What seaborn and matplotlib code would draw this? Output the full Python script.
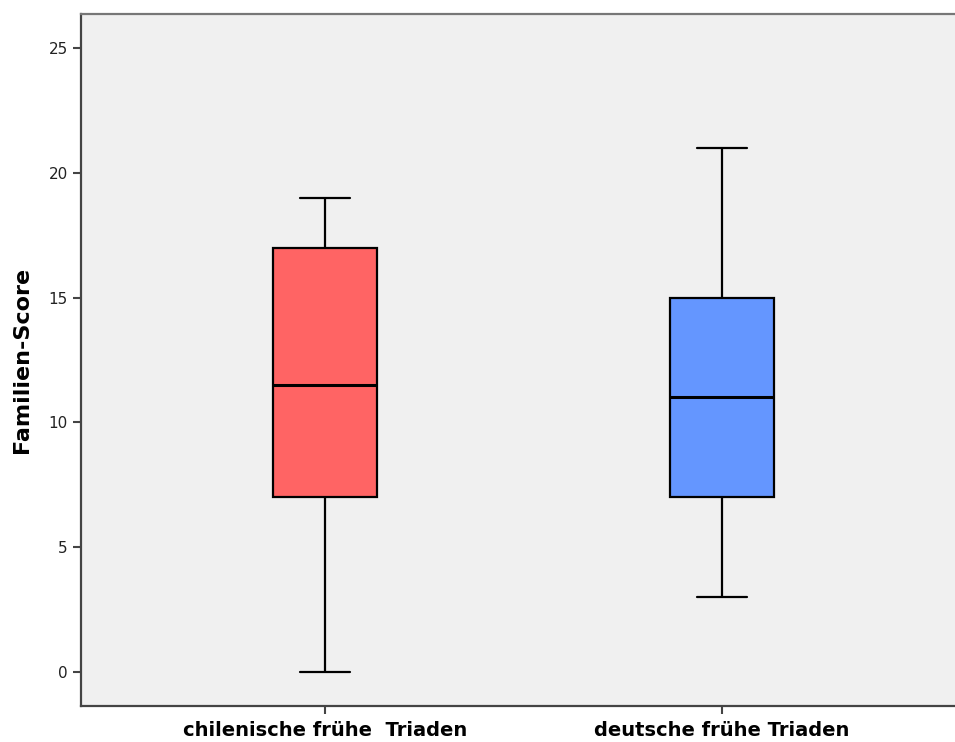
import numpy as np
import pandas as pd
import seaborn as sns
from matplotlib import pyplot as plt

# box summaries: lower whisker, Q1, median, Q3, upper whisker
groups = ["chilenische frühe  Triaden", "deutsche frühe Triaden"]
chile_values = [0, 7, 11.5, 17, 19]
deutsch_values = [3, 7, 11, 15, 21]
box_colors = ["#ff6464", "#6496ff"]
y_ticks = [0, 5, 10, 15, 20, 25]

df = pd.DataFrame({
    "Gruppe": [groups[0]] * len(chile_values) + [groups[1]] * len(deutsch_values),
    "Familien-Score": chile_values + deutsch_values,
})

sns.set_style("white")
plt.rcParams["font.family"] = ["DejaVu Sans"]

fig = plt.figure(figsize=(9.55, 7.42), dpi=100)
ax = fig.add_axes([0.0848, 0.0485, 0.9152, 0.9326])
ax.set_facecolor("#f0f0f0")

sns.boxplot(data=df, x="Gruppe", y="Familien-Score", hue="Gruppe", palette=box_colors,
            order=groups, width=0.264, whis=1.5, linewidth=1.6, linecolor="black",
            saturation=1, medianprops=dict(linewidth=2.2, color="black"),
            legend=False, ax=ax)

# make the caps about half the box width
for line in ax.lines:
    xd = np.asarray(line.get_xdata(), dtype=float)
    yd = np.asarray(line.get_ydata(), dtype=float)
    if len(xd) == 2 and yd[0] == yd[1] and xd[0] != xd[1]:
        c = xd.mean()
        w = abs(xd[1] - xd[0]) / 2
        if w < 0.12:
            line.set_xdata([c - 0.063, c + 0.063])

ax.set_xlim(-0.615, 1.587)
ax.set_ylim(-1.36, 26.36)
ax.set_yticks(y_ticks)
ax.set_yticklabels([str(t) for t in y_ticks], fontsize=11, color="#222222")
ax.set_xticks([0, 1])
ax.set_xticklabels(groups, fontsize=14, fontweight="bold", color="black")
ax.tick_params(axis="both", direction="out", length=6, width=1.5, color="#444444", left=True, bottom=True)
ax.tick_params(axis="x", pad=5)
ax.set_xlabel("")
ax.set_ylabel("Familien-Score", fontsize=16, fontweight="bold", labelpad=12, color="black")

for side in ["left", "bottom"]:
    ax.spines[side].set_color("#444444")
    ax.spines[side].set_linewidth(1.6)
ax.spines["top"].set_color("#777777")
ax.spines["top"].set_linewidth(1.6)
ax.spines["right"].set_visible(False)

fig.savefig("out.png", dpi=100)
